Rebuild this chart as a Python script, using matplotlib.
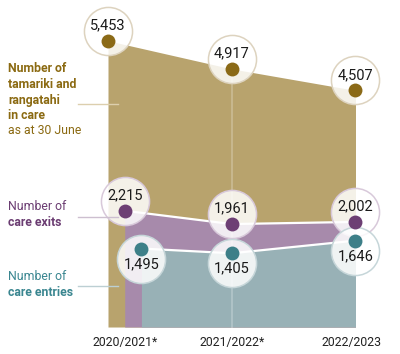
import matplotlib
matplotlib.use("Agg")
import matplotlib.pyplot as plt
from matplotlib.transforms import offset_copy

plt.rcParams['font.family'] = ['Roboto', 'DejaVu Sans']

years = ['2020/2021*', '2021/2022*', '2022/2023']
in_care = [5453, 4917, 4507]
exits = [2215, 1961, 2002]
entries = [1495, 1405, 1646]

tan_area, tan_dot, tan_txt = '#b8a36d', '#8b6a17', '#8b6a12'
pur_area, pur_dot, pur_txt = '#a78aab', '#6d3f74', '#6b3d72'
teal_area, teal_dot, teal_txt = '#98b1b6', '#3d7f88', '#3a8690'

fig = plt.figure(figsize=(4, 3.54), dpi=100)
ax = fig.add_axes([0, 0, 1, 1])
ax.set_xlim(-0.8727, 2.3596)
ax.set_ylim(-514, 6229)
ax.axis('off')

x = [0, 1, 2]
x_exit = [0.135, 1, 2]
x_entry = [0.27, 1, 2]

ax.fill_between(x, in_care, 0, color=tan_area, lw=0, zorder=1)
ax.fill_between(x_exit, exits, 0, color=pur_area, lw=0, zorder=2)
ax.fill_between(x_entry, entries, 0, color=teal_area, lw=0, zorder=3)
ax.plot(x_exit, exits, color='white', lw=1.6, zorder=4)
ax.plot(x_entry, entries, color='white', lw=1.6, zorder=4)
ax.plot([1, 1], [0, in_care[1]], color='white', alpha=0.22, lw=1.5, zorder=4)

series = [
    (x, in_care, tan_dot, '#ddd3bf', 1),
    (x_exit, exits, pur_dot, '#d8c9da', 1),
    (x_entry, entries, teal_dot, '#c6d6d9', -1),
]
for xs, vals, dot, ring, side in series:
    tr = offset_copy(ax.transData, fig=fig, x=0, y=10 * side, units='dots')
    ax.scatter(xs, vals, s=1200, facecolor=(1, 1, 1, 0.85), edgecolor=ring,
               linewidth=1.1, transform=tr, zorder=5)
    ax.scatter(xs, vals, s=100, color=dot, lw=0, zorder=6)
    for xi, v in zip(xs, vals):
        ax.annotate(f'{v:,}', (xi, v), xytext=(0, 11 * side), textcoords='offset points',
                    ha='center', va='center', fontsize=10.5, color='#1a1a1a', zorder=7)

# year labels
label_x = [0.14, 1, 1.97]
for xi, lab in zip(label_x, years):
    ax.text(xi, -290, lab, ha='center', va='center', fontsize=8.8, color='#222222')

W, H = 400, 354


def ftext(px, py, s, color, bold=False):
    fig.text(px / W, 1 - py / H, s, ha='left', va='center', fontsize=8.8,
             color=color, fontweight='bold' if bold else 'normal')


def leader(py, color):
    fig.add_artist(plt.Line2D([78 / W, 118 / W], [1 - py / H, 1 - py / H],
                              color=color, lw=1, zorder=8))


for i, s in enumerate(['Number of', 'tamariki and', 'rangatahi', 'in care']):
    ftext(8, 69 + i * 15.5, s, tan_txt, bold=True)
ftext(8, 131, 'as at 30 June', tan_txt)
leader(104, '#dccfae')

ftext(8, 207, 'Number of', pur_txt)
ftext(8, 223, 'care exits', pur_txt, bold=True)
leader(217, '#cdbfd0')

ftext(8, 276, 'Number of', teal_txt)
ftext(8, 292, 'care entries', teal_txt, bold=True)
leader(286, '#bccfd3')

fig.savefig('out.png', dpi=100)
